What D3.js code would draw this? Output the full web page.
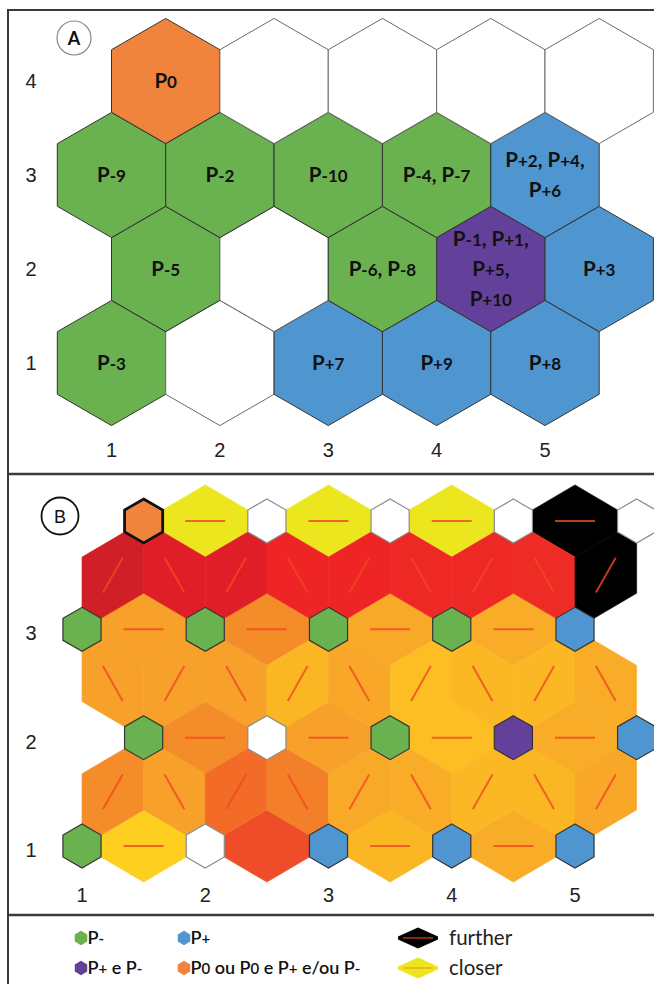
<!DOCTYPE html>
<html>
<head>
<meta charset="utf-8">
<script src="https://cdn.jsdelivr.net/npm/d3@7"></script>
<style>
  html, body { margin: 0; padding: 0; background: #fff; }
  svg { display: block; }
</style>
</head>
<body>
<svg id="chart" width="654" height="984"></svg>
<script>
// ---- Self-organising map, 5 x 4 hexagonal lattice ----
const columns = [1, 2, 3, 4, 5];
const rows = [1, 2, 3, 4];            // bottom -> top
const axisRowsB = [1, 2, 3];          // row ticks shown on the U-matrix

// class of each node, rows bottom -> top, columns left -> right
const nodeClass = [
  ["neg",  "none", "pos",  "pos",  "pos"],
  ["neg",  "none", "neg",  "both", "pos"],
  ["neg",  "neg",  "neg",  "neg",  "pos"],
  ["zero", "none", "none", "none", "none"]
];

// periods mapped to each node (one entry per text line)
const nodeLabels = [
  [["P-3"], [], ["P+7"], ["P+9"], ["P+8"]],
  [["P-5"], [], ["P-6, P-8"], ["P-1, P+1,", "P+5,", "P+10"], ["P+3"]],
  [["P-9"], ["P-2"], ["P-10"], ["P-4, P-7"], ["P+2, P+4,", "P+6"]],
  [["P0"], [], [], [], []]
];

// U-matrix distances, 0 = closer, 1 = further
// links between horizontal neighbours of each row (c -> c+1)
const distRow = [
  [0.10, 0.68, 0.25, 0.30],
  [0.50, 0.35, 0.20, 0.30],
  [0.35, 0.50, 0.31, 0.30],
  [0.00, 0.00, 0.00, 1.00]
];
// links between row r and row r+1, left -> right
const distBand = [
  [0.50, 0.36, 0.60, 0.54, 0.31, 0.30, 0.24, 0.25, 0.32],
  [0.35, 0.35, 0.35, 0.25, 0.32, 0.20, 0.24, 0.24, 0.30],
  [0.90, 0.85, 0.85, 0.78, 0.78, 0.77, 0.77, 0.765, 1.00]
];

const legendClasses = [
  { cls: "neg",  label: "P-" },
  { cls: "pos",  label: "P+" },
  { cls: "both", label: "P+ e P-" },
  { cls: "zero", label: "P0 ou P0 e P+ e/ou P-" }
];
const legendDistance = [
  { value: 1, label: "further" },
  { value: 0, label: "closer" }
];

// ---- styles ----
const classColor = {
  neg: "#6ab150", pos: "#4f95d0", both: "#634099", zero: "#f0843c", none: "#ffffff"
};
const distColor = d3.scaleLinear()
  .domain([0, 0.10, 0.25, 0.35, 0.50, 0.60, 0.70, 0.78, 0.85, 0.90, 1.00])
  .range(["#ebe61e", "#fece20", "#fbb624", "#f7a12a", "#f48c2a", "#f26b27",
          "#ee462a", "#ee2524", "#df1e27", "#d11f27", "#000000"])
  .clamp(true);

const labelFont = "Lato, 'Open Sans', 'DejaVu Sans', sans-serif";
const tickFont = "'Liberation Sans', Arial, sans-serif";

const svg = d3.select("#chart");

// offset of even rows in the hex lattice (in column units)
const rowOffset = r => (r % 2 === 0 ? 0.5 : 0);

function hexPoints(cx, cy, R) {
  return d3.range(6).map(i => {
    const a = (Math.PI / 180) * (60 * i - 90);
    return [cx + R * Math.cos(a), cy + R * Math.sin(a)];
  });
}
const polyPath = pts => "M" + pts.map(p => p[0].toFixed(2) + "," + p[1].toFixed(2)).join("L") + "Z";

// splits "P-4, P-7" into pieces, the period index drawn smaller
function labelPieces(s) {
  const out = [];
  const re = /P([-+]?\d*)/g;
  let last = 0, m;
  while ((m = re.exec(s))) {
    if (m.index > last) out.push({ t: s.slice(last, m.index), small: false });
    out.push({ t: "P", small: false });
    if (m[1]) out.push({ t: m[1], small: true });
    last = re.lastIndex;
  }
  if (last < s.length) out.push({ t: s.slice(last), small: false });
  return out;
}
function writeLabel(g, x, y, text, big, small, anchor, weight) {
  const t = g.append("text")
    .attr("x", x).attr("y", y)
    .attr("text-anchor", anchor)
    .attr("font-family", labelFont)
    .attr("font-weight", weight)
    .attr("fill", "#111");
  labelPieces(text).forEach(p => {
    t.append("tspan").attr("font-size", p.small ? small : big).text(p.t);
  });
  return t;
}

// ---- frame ----
svg.append("path")
  .attr("d", "M654,10 H8 V984")
  .attr("fill", "none").attr("stroke", "#3a3a3a").attr("stroke-width", 2);
[474, 915].forEach(y => {
  svg.append("line").attr("x1", 8).attr("x2", 654).attr("y1", y).attr("y2", y)
    .attr("stroke", "#3a3a3a").attr("stroke-width", 2.5);
});

// =================== Panel A: node map ===================
const xA = d3.scaleLinear().domain([1, 5]).range([111.5, 545]);
const yA = d3.scaleLinear().domain([1, 4]).range([363, 81]);
const RA = (xA(2) - xA(1)) / Math.sqrt(3);

const gA = svg.append("g");
const nodesA = [];
rows.forEach((r, ri) => columns.forEach((c, ci) => {
  nodesA.push({ r, c, cls: nodeClass[ri][ci], lines: nodeLabels[ri][ci],
                x: xA(c + rowOffset(r)), y: yA(r) });
}));

gA.selectAll("path.cell").data(nodesA).join("path")
  .attr("class", "cell")
  .attr("d", d => polyPath(hexPoints(d.x, d.y, RA)))
  .attr("fill", d => classColor[d.cls])
  .attr("stroke", d => d.cls === "none" ? "#6a6a6a" : "#333")
  .attr("stroke-width", 1);

nodesA.forEach(d => {
  const n = d.lines.length;
  d.lines.forEach((line, i) => {
    const y = d.y - (n - 1) * 15 + i * 30 + 7;
    writeLabel(gA, d.x, y, line, 20.5, 17, "middle", "bold");
  });
});

// axis tick labels
gA.selectAll("text.ytick").data(rows).join("text")
  .attr("class", "ytick")
  .attr("x", 31).attr("y", r => yA(r) + 7)
  .attr("text-anchor", "middle")
  .attr("font-family", tickFont).attr("font-size", 20).attr("fill", "#222")
  .text(r => r);
gA.selectAll("text.xtick").data(columns).join("text")
  .attr("class", "xtick")
  .attr("x", c => xA(c)).attr("y", 457)
  .attr("text-anchor", "middle")
  .attr("font-family", tickFont).attr("font-size", 20).attr("fill", "#222")
  .text(c => c);

// panel tag
gA.append("circle").attr("cx", 74).attr("cy", 38).attr("r", 17)
  .attr("fill", "#fff").attr("stroke", "#8a8a8a").attr("stroke-width", 1.2);
gA.append("text").attr("x", 74).attr("y", 44.5).attr("text-anchor", "middle")
  .attr("font-family", labelFont).attr("font-weight", "bold").attr("font-size", 18)
  .attr("fill", "#111").text("A");

// =================== Panel B: U-matrix ===================
const xB = d3.scaleLinear().domain([1, 5]).range([82, 575]);
const yB = d3.scaleLinear().domain([1, 4]).range([846, 521]);
const rNode = 22;
const toPx = (u, v) => [xB(u), yB(v)];

// links between neighbouring nodes, in lattice coordinates (u, v)
const links = [];
rows.forEach((r, ri) => {
  for (let c = 1; c < 5; c++) {
    const u1 = c + rowOffset(r), u2 = c + 1 + rowOffset(r);
    links.push({ a: [u1, r], b: [u2, r], value: distRow[ri][c - 1],
                 third: [[(u1 + u2) / 2, r + 1], [(u1 + u2) / 2, r - 1]] });
  }
});
rows.slice(0, 3).forEach((r, bi) => {
  const merged = [];
  columns.forEach(c => {
    merged.push({ u: c + rowOffset(r), v: r });
    merged.push({ u: c + rowOffset(r + 1), v: r + 1 });
  });
  merged.sort((p, q) => p.u - q.u);
  for (let k = 0; k < merged.length - 1; k++) {
    const p = merged[k], q = merged[k + 1];
    const lo = p.v < q.v ? p : q, hi = p.v < q.v ? q : p;
    const s = 2 * (hi.u - lo.u);
    links.push({ a: [lo.u, lo.v], b: [hi.u, hi.v], value: distBand[bi][k],
                 third: [[lo.u + s, lo.v], [hi.u - s, hi.v]] });
  }
});

// each link cell runs from the facing edges of its two nodes to the
// centroids of the two lattice triangles that share the link
links.forEach(l => {
  const A = toPx(...l.a), B = toPx(...l.b);
  l.mid = [(A[0] + B[0]) / 2, (A[1] + B[1]) / 2];
  const ang = Math.atan2(B[1] - A[1], B[0] - A[0]);
  const snap = Math.round(ang / (Math.PI / 3)) * (Math.PI / 3);
  const pts = [];
  [-1, 1].forEach(sgn => {
    const a1 = snap + sgn * Math.PI / 6;
    pts.push([A[0] + rNode * Math.cos(a1), A[1] + rNode * Math.sin(a1)]);
    const a2 = snap + Math.PI + sgn * Math.PI / 6;
    pts.push([B[0] + rNode * Math.cos(a2), B[1] + rNode * Math.sin(a2)]);
  });
  l.third.forEach(t => {
    pts.push(toPx((l.a[0] + l.b[0] + t[0]) / 3, (l.a[1] + l.b[1] + t[1]) / 3));
  });
  pts.sort((p, q) => Math.atan2(p[1] - l.mid[1], p[0] - l.mid[0]) -
                     Math.atan2(q[1] - l.mid[1], q[0] - l.mid[0]));
  l.pts = pts;
  const len = Math.hypot(B[0] - A[0], B[1] - A[1]);
  l.dir = [(B[0] - A[0]) / len, (B[1] - A[1]) / len];
});

const gB = svg.append("g");
gB.selectAll("path.link").data(links).join("path")
  .attr("class", "link")
  .attr("d", d => polyPath(d.pts))
  .attr("fill", d => distColor(d.value))
  .attr("stroke", d => distColor(d.value))
  .attr("stroke-width", 0.6);

const half = 20;
gB.selectAll("line.dir").data(links).join("line")
  .attr("class", "dir")
  .attr("x1", d => d.mid[0] - d.dir[0] * half).attr("y1", d => d.mid[1] - d.dir[1] * half)
  .attr("x2", d => d.mid[0] + d.dir[0] * half).attr("y2", d => d.mid[1] + d.dir[1] * half)
  .attr("stroke", "#f04824").attr("stroke-opacity", 0.8).attr("stroke-width", 2);

const nodesB = [];
rows.forEach((r, ri) => columns.forEach((c, ci) => {
  nodesB.push({ r, c, cls: nodeClass[ri][ci], x: xB(c + rowOffset(r)), y: yB(r) });
}));
gB.selectAll("path.node").data(nodesB).join("path")
  .attr("class", "node")
  .attr("d", d => polyPath(hexPoints(d.x, d.y, rNode)))
  .attr("fill", d => classColor[d.cls])
  .attr("stroke", d => d.cls === "zero" ? "#111" : (d.cls === "none" ? "#8a8a8a" : "#333"))
  .attr("stroke-width", d => d.cls === "zero" ? 2.8 : 1.2);

gB.selectAll("text.ytick").data(axisRowsB).join("text")
  .attr("class", "ytick")
  .attr("x", 31).attr("y", r => yB(r) + 11)
  .attr("text-anchor", "middle")
  .attr("font-family", tickFont).attr("font-size", 20).attr("fill", "#222")
  .text(r => r);
gB.selectAll("text.xtick").data(columns).join("text")
  .attr("class", "xtick")
  .attr("x", c => xB(c)).attr("y", 902)
  .attr("text-anchor", "middle")
  .attr("font-family", tickFont).attr("font-size", 20).attr("fill", "#222")
  .text(c => c);

gB.append("circle").attr("cx", 60).attr("cy", 516).attr("r", 18.5)
  .attr("fill", "#fff").attr("stroke", "#111").attr("stroke-width", 1.8);
gB.append("text").attr("x", 60).attr("y", 522.5).attr("text-anchor", "middle")
  .attr("font-family", tickFont).attr("font-size", 18)
  .attr("fill", "#111").text("B");

// =================== Legend ===================
const gL = svg.append("g");
const legX = [81, 184], legY = [938, 968];
legendClasses.forEach((d, i) => {
  const x = legX[i % 2], y = legY[Math.floor(i / 2)];
  gL.append("path")
    .attr("d", polyPath(hexPoints(x, y, 7.2)))
    .attr("fill", classColor[d.cls]).attr("stroke", "none");
  writeLabel(gL, x + 6.5, y + 6, d.label, 18, 15, "start", 600);
});
legendDistance.forEach((d, i) => {
  const cx = 418, cy = legY[i];
  const pts = [[cx - 20, cy - 1.5], [cx, cy - 10.5], [cx + 20, cy - 1.5],
               [cx + 20, cy + 1.5], [cx, cy + 10.5], [cx - 20, cy + 1.5]];
  gL.append("path").attr("d", polyPath(pts)).attr("fill", distColor(d.value));
  gL.append("line").attr("x1", cx - 15).attr("x2", cx + 15).attr("y1", cy).attr("y2", cy)
    .attr("stroke", "#f04824").attr("stroke-opacity", d.value > 0.5 ? 0.7 : 0.35)
    .attr("stroke-width", 1.6);
  gL.append("text").attr("x", 449).attr("y", cy + 6.5)
    .attr("font-family", labelFont).attr("font-size", 20.5).attr("fill", "#222")
    .text(d.label);
});
</script>
</body>
</html>
